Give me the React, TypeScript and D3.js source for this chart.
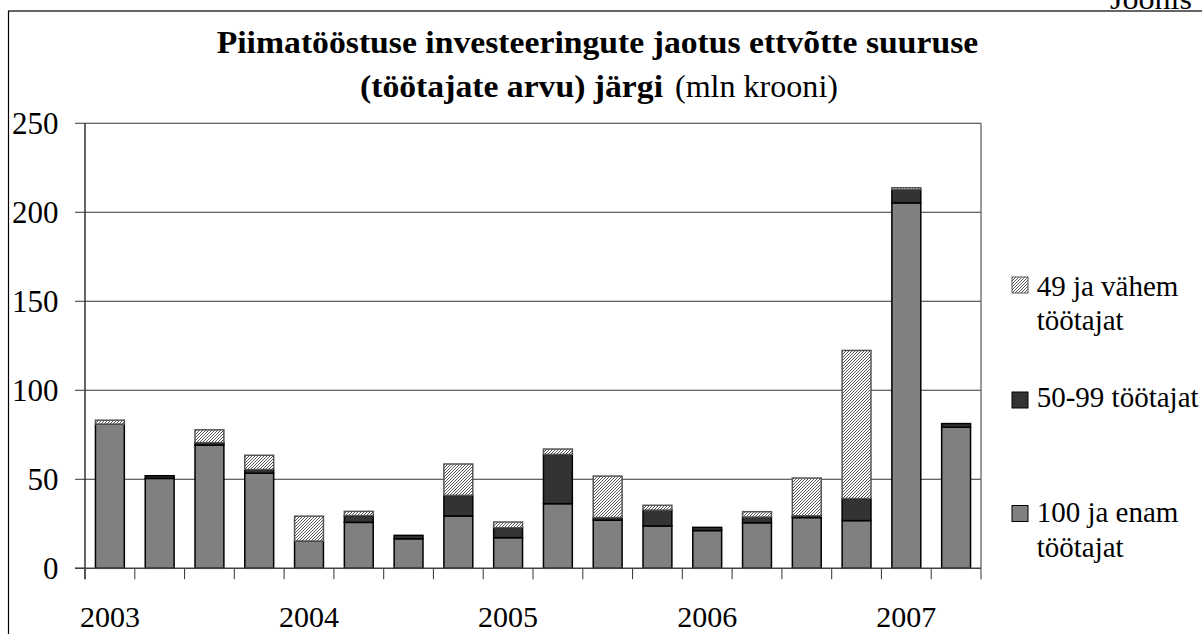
import React from "react";
import * as d3 from "d3";

const categories = [
  "2003 I", "2003 II", "2003 III", "2003 IV",
  "2004 I", "2004 II", "2004 III", "2004 IV",
  "2005 I", "2005 II", "2005 III", "2005 IV",
  "2006 I", "2006 II", "2006 III", "2006 IV",
  "2007 I", "2007 II",
];
const large = [81, 50.5, 69.2, 53.4, 15.3, 25.8, 16.6, 29.4, 17.2, 36.3, 27, 23.8, 21.2, 25.6, 28.5, 26.8, 205.3, 79.3];
const medium = [0, 1.5, 1.4, 2.1, 0, 3.8, 1.9, 11.6, 5.6, 27.7, 1.5, 8.9, 1.8, 3.2, 1, 12.4, 7.4, 2];
const small = [2.2, 0, 7.2, 8, 14, 2.4, 0, 17.6, 3.2, 3, 23.3, 2.7, 0, 3, 21.2, 83.2, 1.1, 0];
const yearLabels = ["2003", "2004", "2005", "2006", "2007"];
const yearIndex = [0, 4, 8, 12, 16];
const yTicks = [0, 50, 100, 150, 200, 250];
const seriesNames = ["49 ja vähem töötajat", "50-99 töötajat", "100 ja enam töötajat"];

function T(props: any) {
  const { children, ...rest } = props;
  return (
    <text fontFamily="Liberation Serif" style={{ fontFamily: "'Liberation Serif'" }} {...rest}>
      {children}
    </text>
  );
}

export default function App() {
  const left = 85, right = 981, top = 123.3, bottom = 568.3;
  const x = d3.scaleBand<number>().domain(categories.map((_, i) => i)).range([left, right]).paddingInner(0.42).paddingOuter(0.21);
  const y = d3.scaleLinear().domain([0, 250]).range([bottom, top]);
  const step = x.step();
  const keys = ["large", "medium", "small"];
  const rows = categories.map((c, i) => ({ i, large: large[i], medium: medium[i], small: small[i] }));
  const stacked = d3.stack<any>().keys(keys)(rows);
  const fills: Record<string, string> = { large: "#808080", medium: "#333333", small: "url(#hatch)" };
  const strokes: Record<string, string> = { large: "#000", medium: "#000", small: "#555" };

  return (
    <svg width={1202} height={634} style={{ position: "absolute", left: 0, top: 0, background: "#fff" }}>
      <defs>
        <pattern id="hatch" patternUnits="userSpaceOnUse" width={3} height={3}>
          <rect width={3} height={3} fill="#fff" />
          <path d="M0,3 L3,0 M-1,1 L1,-1 M2,4 L4,2" stroke="#444" strokeWidth={0.9} />
        </pattern>
      </defs>
      <rect x={0} y={0} width={1202} height={634} fill="#fff" />
      {/* outer frame */}
      <rect x={8.5} y={11} width={1400} height={800} fill="none" stroke="#000" strokeWidth={1.2} />
      <T x={1110} y={9} fontSize={29} textLength={82} lengthAdjust="spacingAndGlyphs">Joonis</T>

      {/* title */}
      <T x={216.7} y={53.3} fontSize={32.5} fontWeight="bold" textLength={761.6} lengthAdjust="spacingAndGlyphs">
        Piimatööstuse investeeringute jaotus ettvõtte suuruse
      </T>
      <T x={360} y={96.7} fontSize={32.5} fontWeight="bold" textLength={303} lengthAdjust="spacingAndGlyphs">
        (töötajate arvu) järgi
      </T>
      <T x={675} y={96.7} fontSize={32.5} textLength={163} lengthAdjust="spacingAndGlyphs">
        (mln krooni)
      </T>

      {/* gridlines */}
      {yTicks.filter((t) => t > 0).map((t) => (
        <line key={t} x1={left} x2={right} y1={y(t)} y2={y(t)} stroke="#333" strokeWidth={1.1} />
      ))}
      <line x1={right} x2={right} y1={top} y2={bottom} stroke="#555" strokeWidth={1.2} />

      {/* bars */}
      {stacked.map((layer) => (
        <g key={layer.key}>
          {layer.map((d, i) =>
            d[1] - d[0] > 0 ? (
              <rect
                key={i}
                x={x(i)!}
                y={y(d[1])}
                width={x.bandwidth()}
                height={y(d[0]) - y(d[1])}
                fill={fills[layer.key]}
                stroke={strokes[layer.key]}
                strokeWidth={1.5}
              />
            ) : null
          )}
        </g>
      ))}

      {/* axes */}
      <line x1={left} x2={left} y1={top} y2={bottom + 11} stroke="#000" strokeWidth={1.2} />
      <line x1={left - 10} x2={right} y1={bottom} y2={bottom} stroke="#444" strokeWidth={1.6} />
      {yTicks.map((t) => (
        <g key={t}>
          <line x1={left - 10} x2={left} y1={y(t)} y2={y(t)} stroke="#444" strokeWidth={1.1} />
          <T x={58.5} y={y(t) + 11} fontSize={31} textAnchor="end">{t}</T>
        </g>
      ))}
      {d3.range(categories.length + 1).map((k) => (
        <line key={k} x1={left + k * step} x2={left + k * step} y1={bottom} y2={bottom + 11} stroke="#444" strokeWidth={1.1} />
      ))}
      {yearLabels.map((lab, k) => (
        <T key={lab} x={x(yearIndex[k])! + x.bandwidth() / 2} y={627.3} fontSize={30} textAnchor="middle">{lab}</T>
      ))}

      {/* legend */}
      <g>
        <rect x={1012} y={277} width={16} height={16} fill="url(#hatch)" stroke="#555" strokeWidth={1} />
        <T x={1036.7} y={296} fontSize={29}>
          <tspan x={1036.7}>49 ja vähem</tspan>
          <tspan x={1036.7} dy={34}>töötajat</tspan>
        </T>
        <rect x={1012} y={392} width={16} height={16} fill="#333" stroke="#000" strokeWidth={1} />
        <T x={1036.7} y={406.7} fontSize={29}>{seriesNames[1]}</T>
        <rect x={1012} y={505.5} width={16} height={16} fill="#808080" stroke="#000" strokeWidth={1} />
        <T x={1036.7} y={521.7} fontSize={29}>
          <tspan x={1036.7}>100 ja enam</tspan>
          <tspan x={1036.7} dy={35}>töötajat</tspan>
        </T>
      </g>
    </svg>
  );
}
